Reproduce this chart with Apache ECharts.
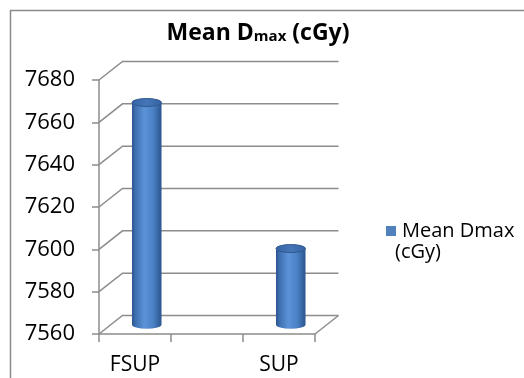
<!DOCTYPE html>
<html>
<head>
<meta charset="utf-8">
<script src="https://cdn.jsdelivr.net/npm/echarts@6/dist/echarts.min.js"></script>
<style>
  html, body { margin: 0; padding: 0; background: #fff; }
  #chart { width: 524px; height: 378px; }
</style>
</head>
<body>
<div id="chart"></div>
<script>
// Categories (the middle slot is an empty category) and mean Dmax per technique
const categories = ['FSUP', '', 'SUP'];
const meanDmax = [7665, null, 7596];
const seriesName = 'Mean Dmax (cGy)';

// Value axis range and tick step
const yMin = 7560;
const yMax = 7680;
const yStep = 20;
const yTicks = [7560, 7580, 7600, 7620, 7640, 7660, 7680];

// Pseudo-3D depth offset of the back wall (pixels)
const depth = { x: 23.5, y: -18.5 };
const gridColor = '#8c8c8c';
const font = '"Open Sans", Lato, sans-serif';
const labelSize = 20;
const tickLabelSize = 22;

const chart = echarts.init(document.getElementById('chart'), null, { renderer: 'canvas' });

// Side wall diagonals + back wall gridlines (and the right floor edge)
function renderWalls(params, api) {
  const cs = params.coordSys;
  const v = api.value(1);
  const y = api.coord([0, v])[1];
  const lineStyle = { stroke: gridColor, lineWidth: 1.5, fill: null };
  const children = [{
    type: 'polyline',
    shape: {
      points: [
        [cs.x, y],
        [cs.x + depth.x, y + depth.y],
        [cs.x + cs.width + depth.x, y + depth.y]
      ]
    },
    style: lineStyle
  }];
  if (v === yMin) {
    children.push({
      type: 'line',
      shape: {
        x1: cs.x + cs.width, y1: y,
        x2: cs.x + cs.width + depth.x, y2: y + depth.y
      },
      style: lineStyle
    });
  }
  return { type: 'group', children: children };
}

// Cylinder standing in the middle of the floor depth
function renderCylinder(params, api) {
  const i = api.value(0);
  const v = api.value(1);
  const top = api.coord([i, v]);
  const base = api.coord([i, yMin]);
  const w = api.size([1, 0])[0] * 0.41;
  const cx = top[0] + depth.x / 2;
  const yTop = top[1] + depth.y / 2;
  const yBot = base[1] + depth.y / 2;
  const rx = w / 2;
  const ry = 4;
  const x0 = cx - rx;
  const x1 = cx + rx;
  const bodyPath = `M${x0} ${yTop} L${x0} ${yBot} A${rx} ${ry} 0 0 0 ${x1} ${yBot} L${x1} ${yTop} Z`;
  const capPath = `M${x0} ${yTop} A${rx} ${ry} 0 1 0 ${x1} ${yTop} A${rx} ${ry} 0 1 0 ${x0} ${yTop} Z`;
  return {
    type: 'group',
    children: [
      {
        type: 'path',
        shape: { pathData: bodyPath },
        style: {
          fill: new echarts.graphic.LinearGradient(0, 0, 1, 0, [
            { offset: 0, color: '#2c5690' },
            { offset: 0.12, color: '#3e6fb0' },
            { offset: 0.42, color: '#5c93d8' },
            { offset: 0.72, color: '#4a80c4' },
            { offset: 1, color: '#2b558e' }
          ]),
          stroke: null
        }
      },
      {
        type: 'path',
        shape: { pathData: capPath },
        style: {
          fill: new echarts.graphic.LinearGradient(0, 0, 1, 0, [
            { offset: 0, color: '#3563a2' },
            { offset: 0.5, color: '#4676b8' },
            { offset: 1, color: '#3563a2' }
          ]),
          stroke: '#30598f',
          lineWidth: 1
        }
      }
    ]
  };
}

const option = {
  backgroundColor: '#ffffff',
  animation: false,
  title: {
    text: '{a|Mean D}{b|max}{a| (cGy)}',
    left: 253,
    textAlign: 'center',
    top: 17,
    textStyle: {
      rich: {
        a: { fontFamily: font, fontWeight: 'bold', fontSize: 23, color: '#000' },
        b: { fontFamily: font, fontWeight: 'bold', fontSize: 15, color: '#000', padding: [6, 0, 0, 0] }
      }
    }
  },
  legend: {
    data: [seriesName],
    left: 381,
    top: 216,
    icon: 'rect',
    itemWidth: 10,
    itemHeight: 10,
    formatter: () => 'Mean Dmax',
    textStyle: { fontFamily: font, fontSize: labelSize, color: '#000', padding: [0, 0, 0, 1] }
  },
  graphic: [
    {
      type: 'rect',
      shape: { x: 10.5, y: 10.5, width: 700, height: 600 },
      style: { fill: null, stroke: '#8a8a8a', lineWidth: 1.5 },
      silent: true
    },
    {
      type: 'text',
      left: 395,
      top: 242,
      style: { text: '(cGy)', font: `${labelSize}px ${font}`, fill: '#000' }
    }
  ],
  grid: { left: 99, top: 80, width: 216, height: 254 },
  xAxis: {
    type: 'category',
    data: categories,
    boundaryGap: true,
    axisLine: { show: true, lineStyle: { color: gridColor, width: 1.5 } },
    axisTick: { show: true, alignWithLabel: false, interval: 0, length: 8, lineStyle: { color: gridColor, width: 1.5 } },
    axisLabel: { interval: 0, margin: 21, fontFamily: font, fontSize: 21, color: '#000' },
    splitLine: { show: false }
  },
  yAxis: {
    type: 'value',
    min: yMin,
    max: yMax,
    interval: yStep,
    axisLine: { show: true, lineStyle: { color: gridColor, width: 1.5 } },
    axisTick: { show: true, length: 7, lineStyle: { color: gridColor, width: 1.5 } },
    axisLabel: { margin: 24, fontFamily: font, fontSize: tickLabelSize, color: '#000', formatter: v => String(v) },
    splitLine: { show: false }
  },
  series: [
    {
      name: 'walls',
      type: 'custom',
      renderItem: renderWalls,
      data: yTicks.map(v => [0, v]),
      silent: true,
      z: 1
    },
    {
      name: seriesName,
      type: 'custom',
      renderItem: renderCylinder,
      itemStyle: { color: '#4f81bd' },
      data: meanDmax.map((v, i) => [i, v]).filter(d => d[1] != null),
      z: 3
    }
  ]
};

chart.setOption(option);
</script>
</body>
</html>
